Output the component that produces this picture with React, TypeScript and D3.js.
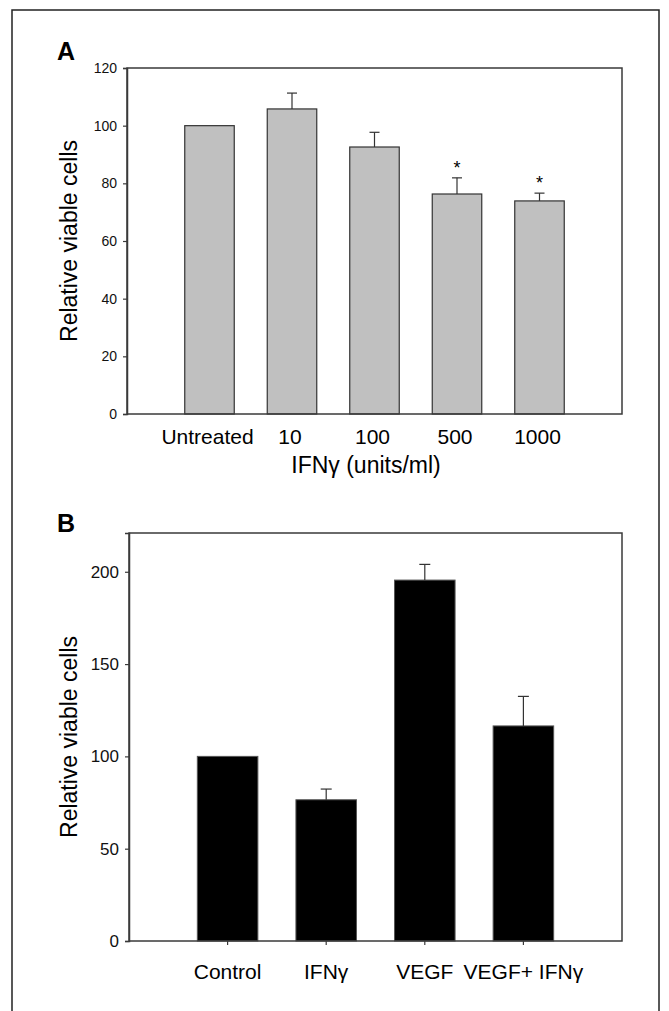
import React, { useEffect, useRef } from 'react';
import * as d3 from 'd3';

// panel A: IFN-gamma dose response
const doseLabels = ['Untreated', '10', '100', '500', '1000'];
const doseMeans = [100, 105.8, 92.6, 76.3, 73.9];
const doseErrTop = [100, 111.3, 97.7, 81.9, 76.6];
const doseSignif = [false, false, false, true, true];
const doseTicks = [0, 20, 40, 60, 80, 100, 120];

// panel B: VEGF / IFN-gamma
const treatLabels = ['Control', 'IFNγ', 'VEGF', 'VEGF+ IFNγ'];
const treatMeans = [100, 76.5, 195.5, 116.5];
const treatErrTop = [100, 82.3, 204, 132.5];
const treatTicks = [0, 50, 100, 150, 200];

const FONT = '"Liberation Sans", Arial, Helvetica, sans-serif';

function App() {
  const svgRef = useRef<SVGSVGElement>(null);

  useEffect(() => {
    const svg = d3.select(svgRef.current);
    svg.selectAll('*').remove();

    // outer frame (bottom edge runs off the page)
    svg.append('rect')
      .attr('x', 12).attr('y', 10)
      .attr('width', 647).attr('height', 1100)
      .attr('fill', 'none').attr('stroke', '#222').attr('stroke-width', 1.5);

    // ---------- panel A ----------
    const a = { left: 127, right: 622, top: 68, bottom: 414 };
    const xA = d3.scaleBand().domain(doseLabels)
      .range([a.left, a.right]).paddingInner(0.4).paddingOuter(0.7);
    const yA = d3.scaleLinear().domain([0, 120]).range([a.bottom, a.top]);

    const gA = svg.append('g');
    gA.append('text').attr('x', 57).attr('y', 60)
      .attr('font-family', FONT).attr('font-weight', 'bold').attr('font-size', 25)
      .text('A');

    gA.selectAll('rect.bar').data(doseMeans).join('rect')
      .attr('class', 'bar')
      .attr('x', (d, i) => xA(doseLabels[i])!)
      .attr('width', xA.bandwidth())
      .attr('y', d => yA(d))
      .attr('height', d => yA(0) - yA(d))
      .attr('fill', '#c0c0c0').attr('stroke', '#333').attr('stroke-width', 1.2);

    doseMeans.forEach((m, i) => {
      if (doseErrTop[i] <= m) return;
      const cx = xA(doseLabels[i])! + xA.bandwidth() / 2;
      gA.append('line').attr('x1', cx).attr('x2', cx)
        .attr('y1', yA(m)).attr('y2', yA(doseErrTop[i]))
        .attr('stroke', '#333').attr('stroke-width', 1.2);
      gA.append('line').attr('x1', cx - 5).attr('x2', cx + 5)
        .attr('y1', yA(doseErrTop[i])).attr('y2', yA(doseErrTop[i]))
        .attr('stroke', '#333').attr('stroke-width', 1.2);
      if (doseSignif[i]) {
        gA.append('text').attr('x', cx).attr('y', yA(doseErrTop[i]) - 4)
          .attr('text-anchor', 'middle').attr('font-family', FONT).attr('font-size', 18)
          .text('*');
      }
    });

    // box
    gA.append('rect').attr('x', a.left).attr('y', a.top)
      .attr('width', a.right - a.left).attr('height', a.bottom - a.top)
      .attr('fill', 'none').attr('stroke', '#3a3a3a').attr('stroke-width', 1.5);

    const axA = gA.append('g').attr('transform', `translate(${a.left},0)`)
      .call(d3.axisLeft(yA).tickValues(doseTicks).tickSize(4).tickPadding(6));
    axA.select('.domain').attr('stroke', '#3a3a3a').attr('stroke-width', 1.5);
    axA.selectAll('.tick line').attr('stroke', '#3a3a3a').attr('stroke-width', 1.2);
    axA.selectAll('.tick text').attr('font-family', FONT).attr('font-size', 14).attr('fill', '#111');

    gA.selectAll('text.cat').data(doseLabels).join('text')
      .attr('class', 'cat')
      .attr('x', d => xA(d)! + xA.bandwidth() / 2 - 2)
      .attr('y', 444)
      .attr('text-anchor', 'middle').attr('font-family', FONT).attr('font-size', 21)
      .text(d => d);

    gA.append('text').attr('x', 366).attr('y', 473)
      .attr('text-anchor', 'middle').attr('font-family', FONT).attr('font-size', 23)
      .text('IFNγ (units/ml)');

    gA.append('text')
      .attr('transform', `translate(77,${(a.top + a.bottom) / 2}) rotate(-90)`)
      .attr('text-anchor', 'middle').attr('font-family', FONT).attr('font-size', 23)
      .text('Relative viable cells');

    // ---------- panel B ----------
    const b = { left: 129, right: 622, top: 533, bottom: 941 };
    const xB = d3.scaleBand().domain(treatLabels)
      .range([b.left, b.right]).paddingInner(0.386).paddingOuter(0.693);
    const yB = d3.scaleLinear().domain([0, 221]).range([b.bottom, b.top]);

    const gB = svg.append('g');
    gB.append('text').attr('x', 57).attr('y', 532)
      .attr('font-family', FONT).attr('font-weight', 'bold').attr('font-size', 25)
      .text('B');

    gB.selectAll('rect.bar').data(treatMeans).join('rect')
      .attr('class', 'bar')
      .attr('x', (d, i) => xB(treatLabels[i])!)
      .attr('width', xB.bandwidth())
      .attr('y', d => yB(d))
      .attr('height', d => yB(0) - yB(d))
      .attr('fill', '#000').attr('stroke', '#555').attr('stroke-width', 1);

    treatMeans.forEach((m, i) => {
      if (treatErrTop[i] <= m) return;
      const cx = xB(treatLabels[i])! + xB.bandwidth() / 2;
      gB.append('line').attr('x1', cx).attr('x2', cx)
        .attr('y1', yB(m)).attr('y2', yB(treatErrTop[i]))
        .attr('stroke', '#333').attr('stroke-width', 1.2);
      gB.append('line').attr('x1', cx - 5.5).attr('x2', cx + 5.5)
        .attr('y1', yB(treatErrTop[i])).attr('y2', yB(treatErrTop[i]))
        .attr('stroke', '#333').attr('stroke-width', 1.2);
    });

    gB.append('rect').attr('x', b.left).attr('y', b.top)
      .attr('width', b.right - b.left).attr('height', b.bottom - b.top)
      .attr('fill', 'none').attr('stroke', '#3a3a3a').attr('stroke-width', 1.5);

    const axB = gB.append('g').attr('transform', `translate(${b.left},0)`)
      .call(d3.axisLeft(yB).tickValues(treatTicks).tickSize(4).tickPadding(6));
    axB.select('.domain').attr('stroke', '#3a3a3a').attr('stroke-width', 1.5);
    axB.selectAll('.tick line').attr('stroke', '#3a3a3a').attr('stroke-width', 1.2);
    axB.selectAll('.tick text').attr('font-family', FONT).attr('font-size', 17).attr('fill', '#111');

    const axBx = gB.append('g').attr('transform', `translate(0,${b.bottom})`)
      .call(d3.axisBottom(xB).tickSize(4).tickFormat(() => ''));
    axBx.select('.domain').remove();
    axBx.selectAll('.tick line').attr('stroke', '#3a3a3a').attr('stroke-width', 1.2);

    gB.selectAll('text.cat').data(treatLabels).join('text')
      .attr('class', 'cat')
      .attr('x', d => xB(d)! + xB.bandwidth() / 2)
      .attr('y', 979)
      .attr('text-anchor', 'middle').attr('font-family', FONT).attr('font-size', 21)
      .text(d => d);

    gB.append('text')
      .attr('transform', `translate(77,${(b.top + b.bottom) / 2}) rotate(-90)`)
      .attr('text-anchor', 'middle').attr('font-family', FONT).attr('font-size', 23)
      .text('Relative viable cells');
  }, []);

  return (
    <svg ref={svgRef} width={669} height={1011}
      style={{ position: 'absolute', left: 0, top: 0, background: '#fff' }} />
  );
}

export default App;
